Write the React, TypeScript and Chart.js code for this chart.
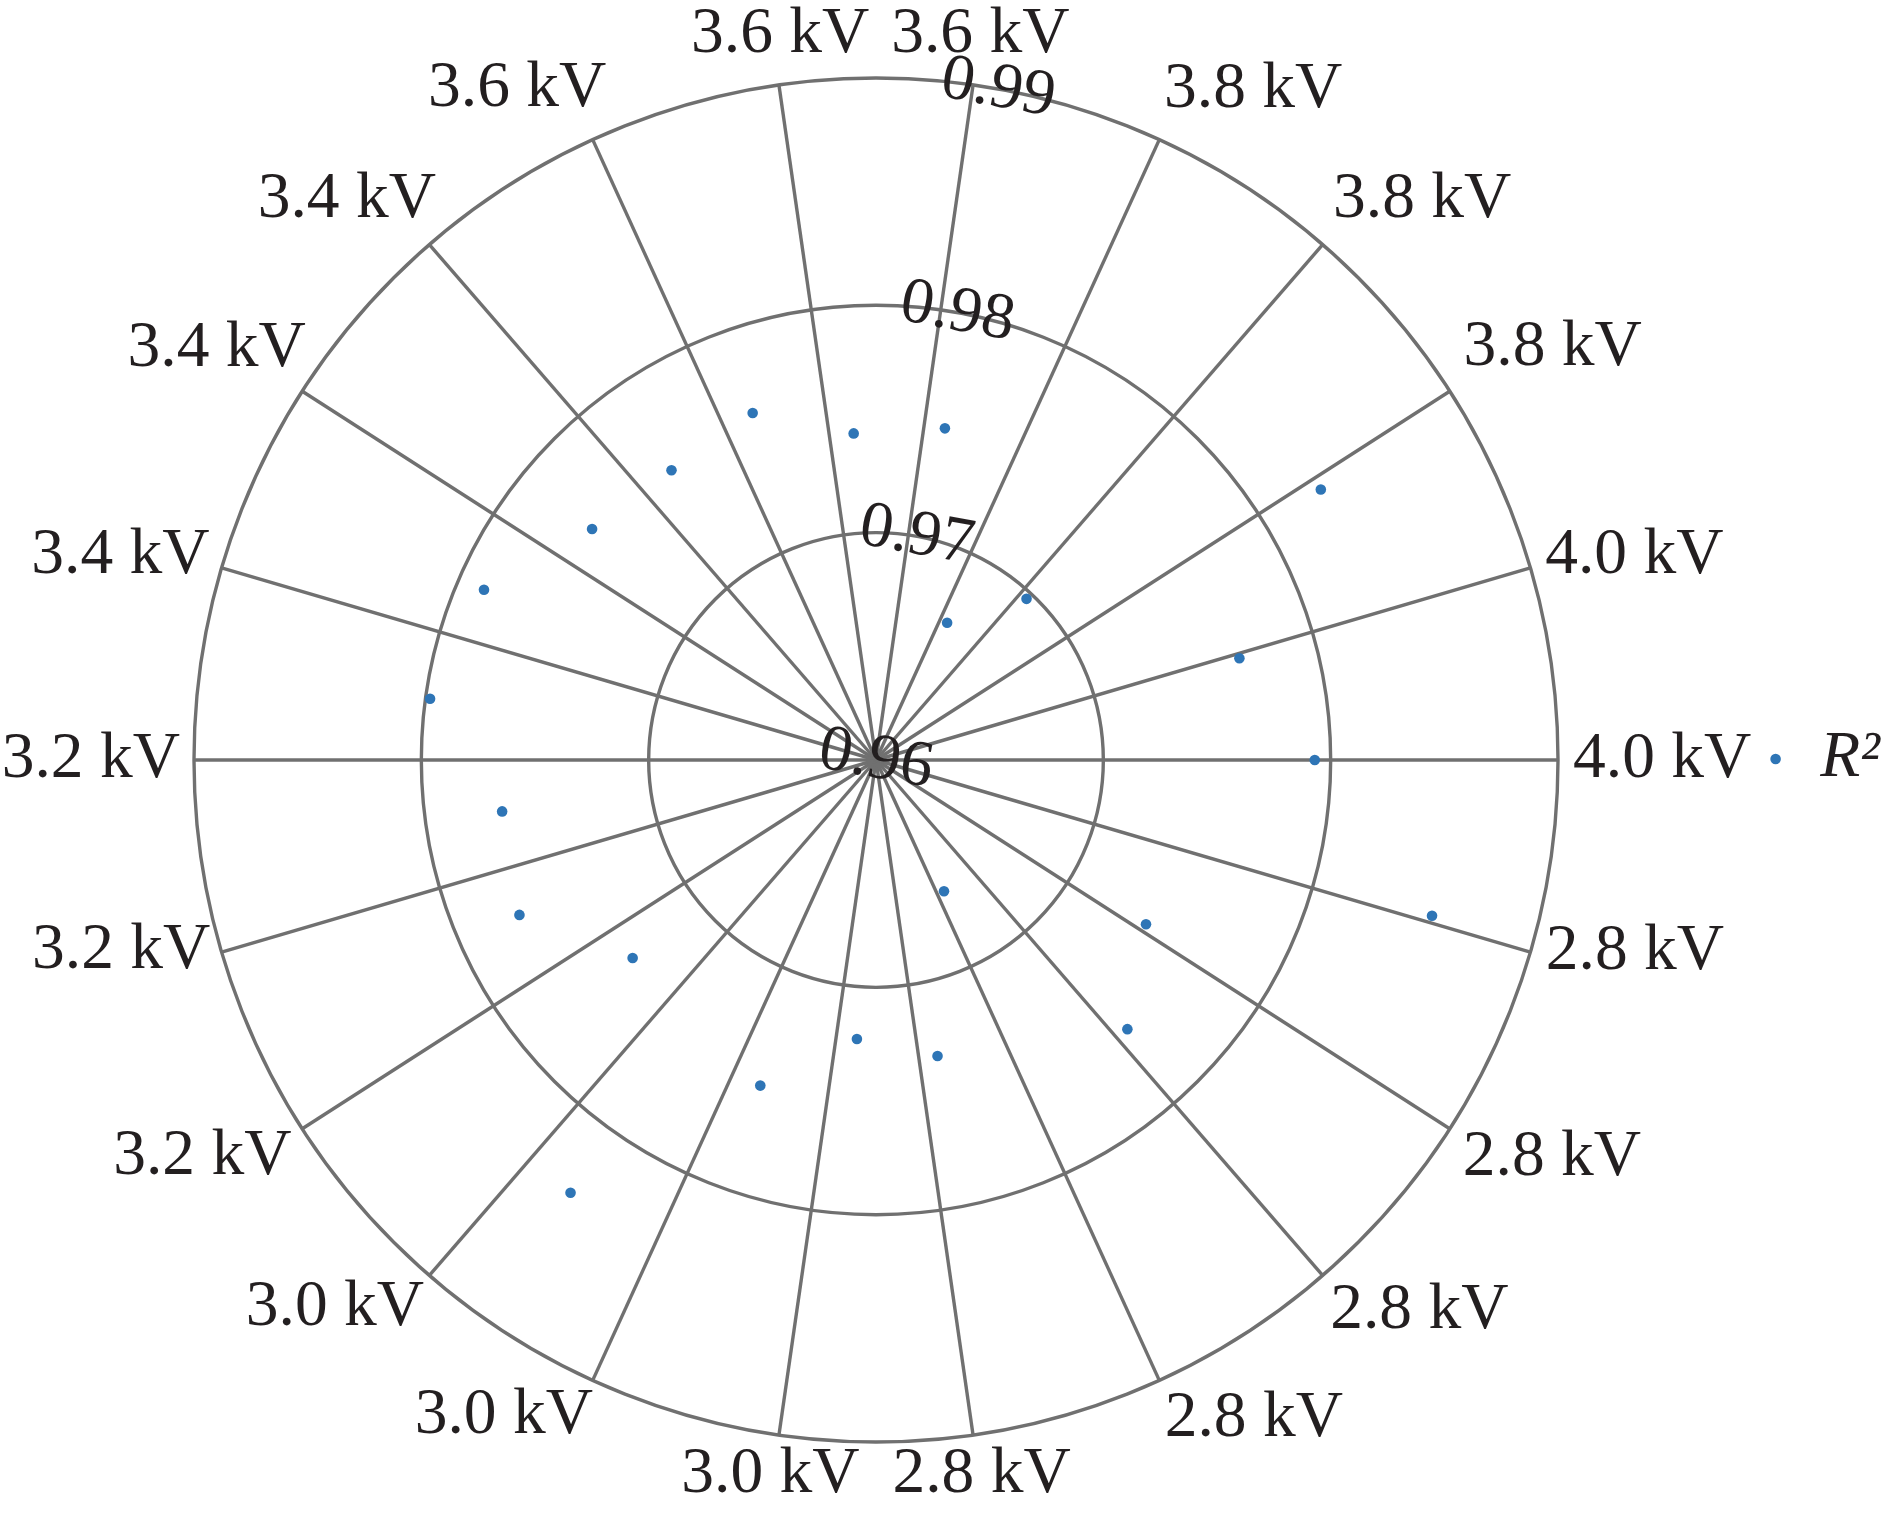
import React, { useEffect, useRef } from 'react';
import { Chart, registerables } from 'chart.js';

Chart.register(...registerables);

// ---------------- data ----------------
const SPOKE_LABELS = [
  '3.6 kV', '3.8 kV', '3.8 kV', '3.8 kV', '4.0 kV', '4.0 kV',
  '2.8 kV', '2.8 kV', '2.8 kV', '2.8 kV', '2.8 kV',
  '3.0 kV', '3.0 kV', '3.0 kV', '3.2 kV', '3.2 kV', '3.2 kV',
  '3.4 kV', '3.4 kV', '3.4 kV', '3.6 kV', '3.6 kV',
];
const R2_VALUES = [
  0.9749, 0.9668, 0.9697, 0.9829, 0.9766, 0.9793, 0.9854, 0.9739,
  0.9762, 0.9665, 0.9733, 0.9723, 0.9752, 0.9833, 0.9738, 0.9771,
  0.9766, 0.9798, 0.9788, 0.9761, 0.9756, 0.9762, 0.9744,
];
const TICK_VALUES = [0.96, 0.97, 0.98, 0.99];
const SERIES_NAME = 'R\u00B2';

// ---------------- styling / layout ----------------
const FONT = "'Liberation Serif', 'Times New Roman', serif";
const FONT_SIZE = 65.5;
const GRID_COLOR = '#707070';
const GRID_WIDTH = 3.4;
const TEXT_COLOR = '#231f20';
const POINT_COLOR = '#2e75b6';

const N_SPOKES = SPOKE_LABELS.length; // 22 grid spokes
const N_POINTS = R2_VALUES.length; // 23 markers
const RES = 2 * N_SPOKES * N_POINTS; // common angular resolution
const STEP = 360 / RES;
const START = 29; // direction of slot 0 (in steps from 12 o'clock)
const POINT_START = 33; // direction of first marker (in steps)
const mod = (a: number) => ((a % RES) + RES) % RES;
const spokeSlot = (k: number) => mod(N_POINTS * (2 * k + 1) - START);
const pointSlot = (m: number) => mod(POINT_START + 2 * N_SPOKES * m - START);
const slotDeg = (s: number) => mod(s + START) * STEP;

// per-spoke label placement: [slot offset, padding]
const LABEL_TWEAKS: Record<number, [number, number]> = {
  1: [0, 11.5], 2: [1, 10.9], 3: [1, 13.6], 4: [7, 7.3], 5: [0, 15],
  6: [-7, 7.9], 7: [-1, 12.8], 8: [0, 11.5], 9: [0, 13],
  12: [-1, 8.7], 13: [0, 8], 14: [1, 10.1], 15: [7, 3.6], 16: [0, 14],
  17: [-7, 4.4], 18: [1, -1.5], 19: [2, -0.2], 20: [4, 4.7],
};

export default function App() {
  const ref = useRef<HTMLCanvasElement>(null);

  useEffect(() => {
    document.body.style.margin = '0';
    document.body.style.overflow = 'hidden';
    if (!ref.current) return;

    const labels: string[] = new Array(RES).fill('');
    const style = new Map<number, { pad: number; lh: number }>();

    Object.keys(LABEL_TWEAKS).forEach((key) => {
      const k = Number(key);
      const [off, pad] = LABEL_TWEAKS[k];
      const slot = mod(spokeSlot(k) + off);
      const d = slotDeg(slot);
      labels[slot] = SPOKE_LABELS[k];
      style.set(slot, { pad, lh: d > 90.5 && d < 269.5 ? 0.8 : 1.2 });
    });
    // the two top labels and the two bottom labels share one centred line
    const topSlot = mod(-START + 1);
    labels[topSlot] = SPOKE_LABELS[N_SPOKES - 1] + '\u2004' + SPOKE_LABELS[0];
    style.set(topSlot, { pad: 10, lh: 67 / FONT_SIZE });
    const botSlot = mod(RES / 2 - START);
    labels[botSlot] = SPOKE_LABELS[11] + '\u2002' + SPOKE_LABELS[10];
    style.set(botSlot, { pad: -9, lh: 83 / FONT_SIZE });

    const spokeSet = new Set<number>();
    for (let k = 0; k < N_SPOKES; k++) spokeSet.add(spokeSlot(k));

    const data: (number | null)[] = new Array(RES).fill(null);
    R2_VALUES.forEach((v, m) => {
      data[pointSlot(m)] = v;
    });

    const chart = new Chart(ref.current, {
      type: 'radar',
      data: {
        labels,
        datasets: [
          {
            label: SERIES_NAME,
            data,
            showLine: false,
            fill: false,
            borderColor: POINT_COLOR,
            backgroundColor: POINT_COLOR,
            pointBackgroundColor: POINT_COLOR,
            pointBorderColor: POINT_COLOR,
            pointBorderWidth: 0,
            pointRadius: 5.3,
            pointHoverRadius: 5.3,
            pointStyle: 'circle',
          },
        ],
      },
      options: {
        responsive: false,
        animation: false,
        devicePixelRatio: 1,
        events: [],
        layout: { padding: 0 },
        plugins: {
          tooltip: { enabled: false },
          legend: {
            display: true,
            position: 'right',
            labels: {
              usePointStyle: true,
              pointStyle: 'circle',
              boxWidth: 24,
              boxHeight: 7.5,
              padding: 10,
              color: TEXT_COLOR,
              font: { family: FONT, size: FONT_SIZE, style: 'italic' },
            },
          },
        },
        scales: {
          r: {
            min: TICK_VALUES[0],
            max: TICK_VALUES[TICK_VALUES.length - 1],
            startAngle: START * STEP,
            afterBuildTicks: (scale: any) => {
              // first tick is never drawn by the radial scale, so repeat the centre value
              scale.ticks = [{ value: TICK_VALUES[0] }, ...TICK_VALUES.map((v) => ({ value: v }))];
            },
            ticks: {
              display: true,
              showLabelBackdrop: false,
              backdropPadding: -FONT_SIZE / 2,
              color: TEXT_COLOR,
              font: { family: FONT, size: FONT_SIZE },
              callback: (v: any) => Number(v).toFixed(2),
            },
            grid: {
              display: true,
              circular: true,
              color: GRID_COLOR,
              lineWidth: GRID_WIDTH,
            },
            angleLines: {
              display: true,
              color: (c: any) => (spokeSet.has(c.index) ? GRID_COLOR : 'rgba(0,0,0,0)'),
              lineWidth: (c: any) => (spokeSet.has(c.index) ? GRID_WIDTH : 0),
            },
            pointLabels: {
              display: true,
              color: TEXT_COLOR,
              padding: (c: any) => {
                const s = style.get(c.index);
                return s ? s.pad : 0;
              },
              font: (c: any) => {
                const s = style.get(c.index);
                if (!s) return { family: FONT, size: 1, lineHeight: 1 };
                return { family: FONT, size: FONT_SIZE, lineHeight: s.lh };
              },
            },
          },
        },
      } as any,
    });

    return () => chart.destroy();
  }, []);

  return (
    <div style={{ width: 1890, height: 1518 }}>
      <canvas ref={ref} width={1890} height={1518} style={{ display: 'block' }} />
    </div>
  );
}
